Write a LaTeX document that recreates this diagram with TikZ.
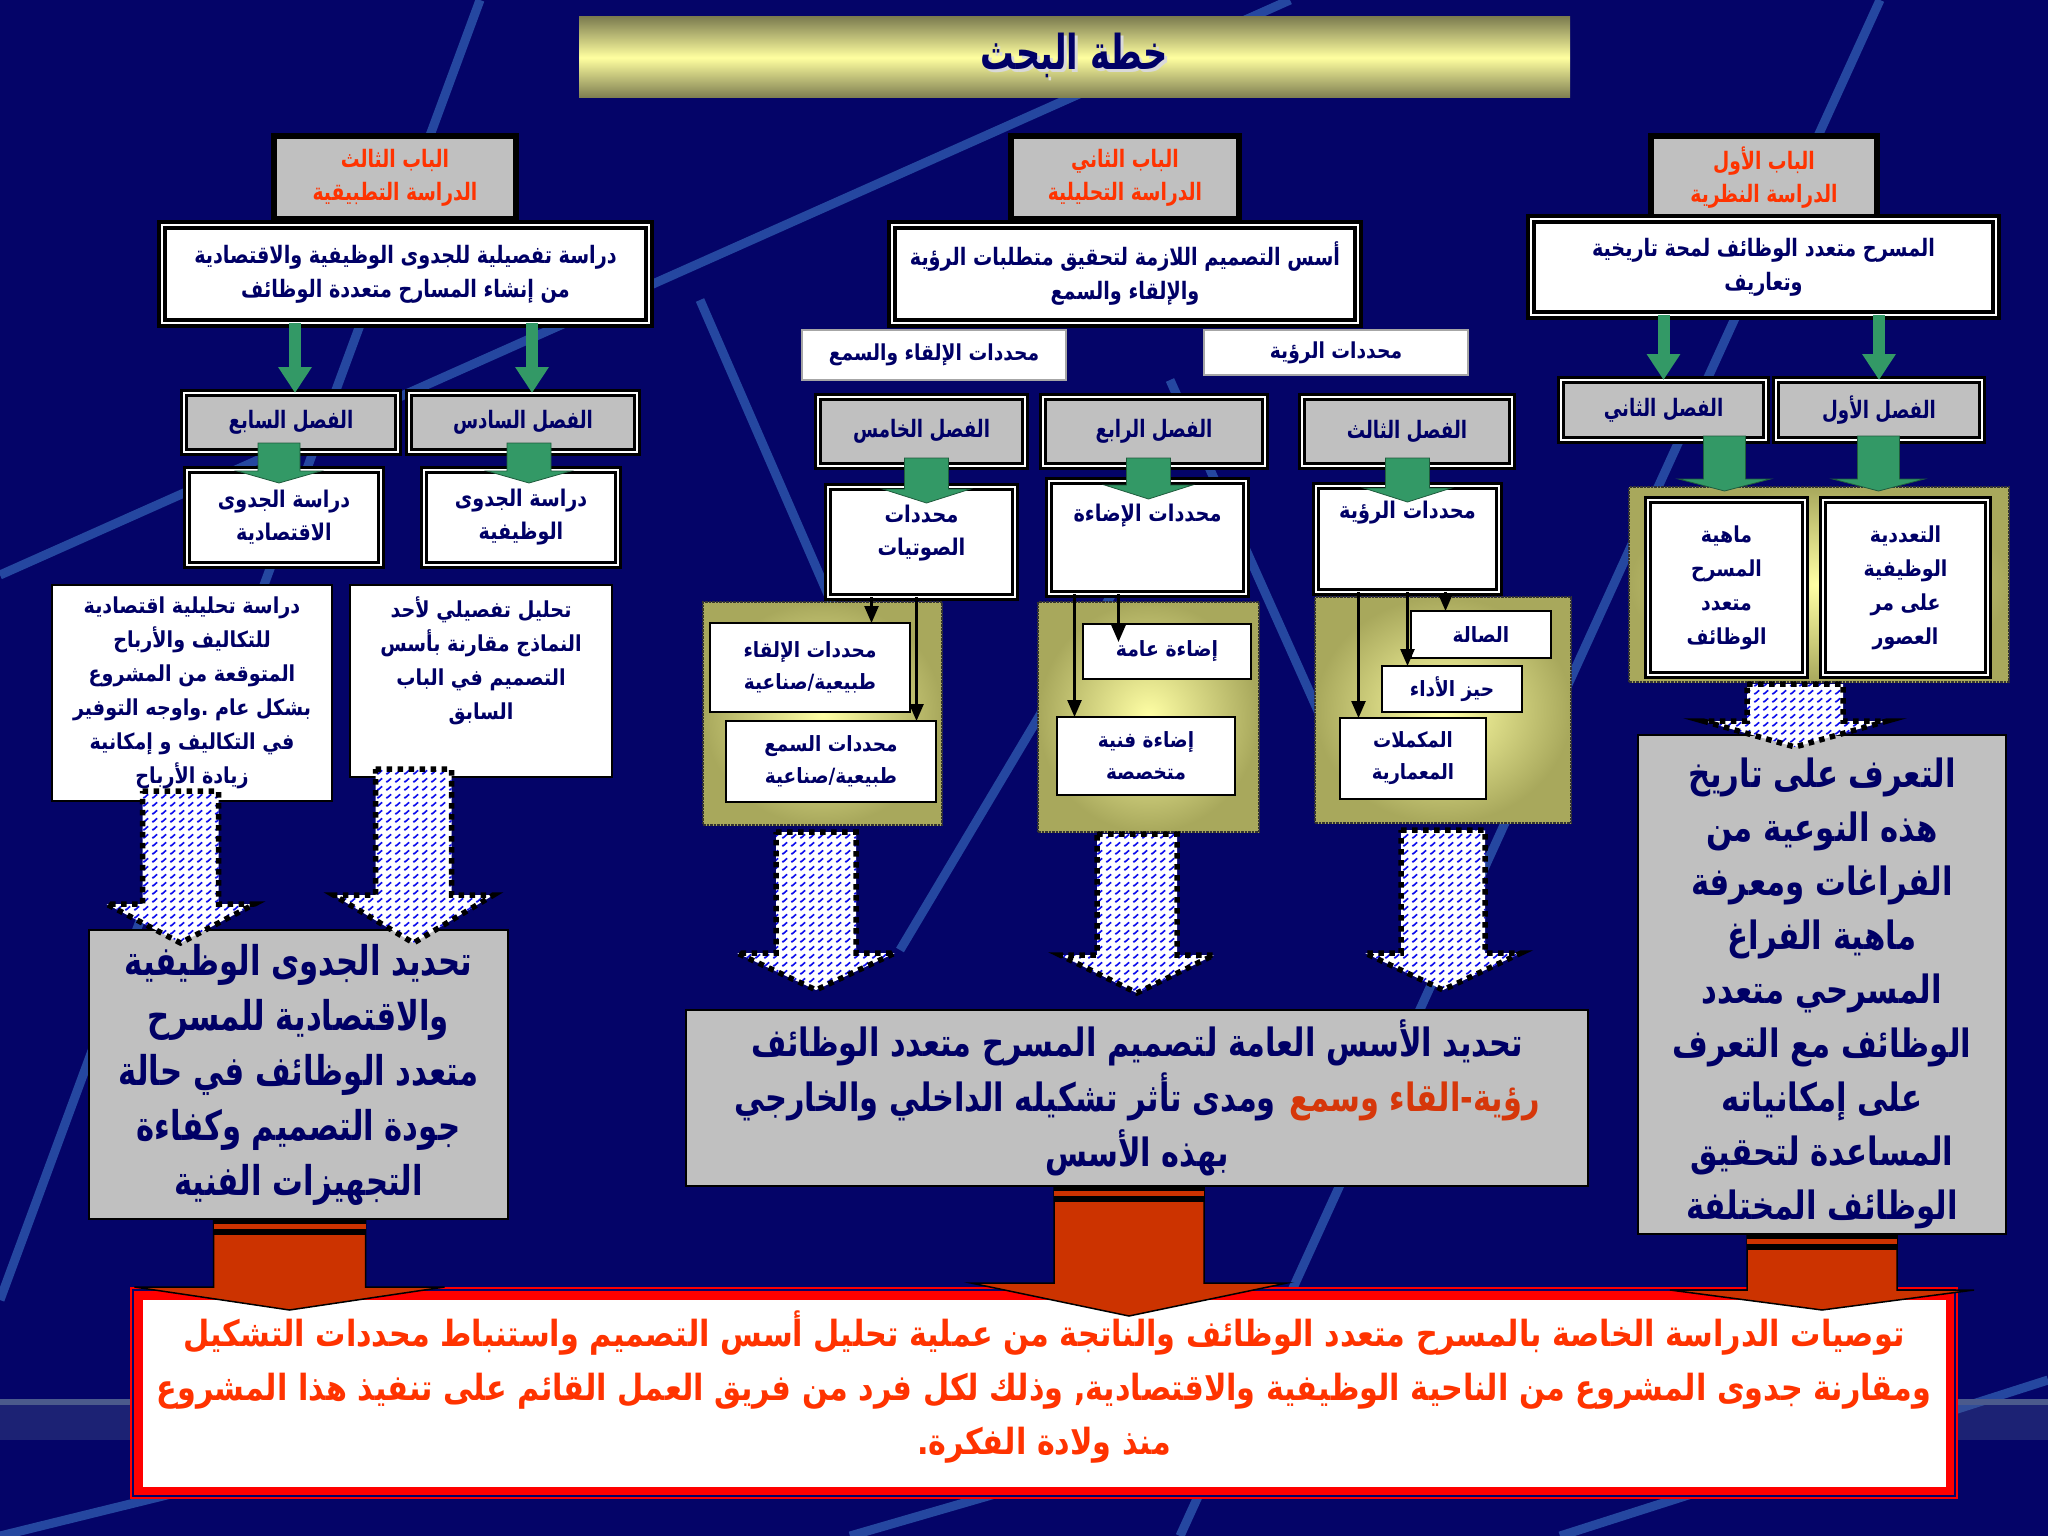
\documentclass[tikz,border=0pt]{standalone}
\usepackage{fontspec}
\usepackage{graphicx}
\newfontfamily\arabicfont[Script=Arabic]{DejaVu Sans}
\TeXXeTstate=1
\usetikzlibrary{calc,patterns,arrows.meta}
\newcommand{\arsx}{0.8}
\newcommand{\AR}[1]{\scalebox{\arsx}[1]{\beginR #1\endR}}
\definecolor{bgnavy}{RGB}{4,4,104}
\definecolor{bglinec}{RGB}{52,100,185}
\definecolor{bandc}{RGB}{75,90,140}
\definecolor{boxgray}{RGB}{192,192,192}
\definecolor{navytext}{RGB}{0,0,102}
\definecolor{arred}{RGB}{255,51,0}
\definecolor{arredtwo}{RGB}{214,55,10}
\definecolor{arrgreen}{RGB}{51,153,102}
\definecolor{arrred}{RGB}{204,51,0}
\definecolor{zred}{RGB}{255,0,0}
\definecolor{wavblue}{RGB}{10,10,235}
\definecolor{panellight}{RGB}{255,255,165}
\definecolor{paneldark}{RGB}{168,168,92}
\definecolor{titlelight}{RGB}{255,255,160}
\definecolor{titledark}{RGB}{125,125,80}
\pgfdeclarepatternformonly{waves}{\pgfqpoint{-1pt}{-1pt}}{\pgfqpoint{10pt}{9pt}}{\pgfqpoint{9pt}{8pt}}{%
  \pgfsetlinewidth{1.6pt}%
  \pgfpathmoveto{\pgfqpoint{0pt}{2pt}}%
  \pgfpathlineto{\pgfqpoint{4.5pt}{6pt}}%
  \pgfpathlineto{\pgfqpoint{9pt}{2pt}}%
  \pgfusepathqstroke}
% #1 style, #2 start coordinate, #3 tip coordinate, #4 shaft half width, #5 head half width, #6 head length
\newcommand{\blockarrow}[6]{%
  \path[#1] let \p1=(#2), \p2=(#3) in
    (\x2-#4pt,\y1) -- (\x2+#4pt,\y1) -- (\x2+#4pt,\y2+#6pt) -- (\x2+#5pt,\y2+#6pt)
    -- (\x2,\y2) -- (\x2-#5pt,\y2+#6pt) -- (\x2-#4pt,\y2+#6pt) -- cycle;}
\newcommand{\redarrow}[5]{%
  \blockarrow{redblock}{#1}{#2}{#3}{#4}{#5}
  \path[fill=black] let \p1=(#1), \p2=(#2) in (\x2-#3pt,\y1) rectangle (\x2+#3pt,\y1-16pt);
  \path[fill=arrred] let \p1=(#1), \p2=(#2) in (\x2-#3pt,\y1-5pt) rectangle (\x2+#3pt,\y1-10pt);}
\begin{document}
\begin{tikzpicture}[x=1pt,y=-1pt,
  every node/.style={inner sep=0pt, outer sep=0pt, align=center, font=\arabicfont\bfseries},
  fz/.style 2 args={font=\arabicfont\bfseries\fontsize{#1}{#2}\selectfont},
  sx/.style={execute at begin node={\renewcommand{\arsx}{#1}}},
  babbox/.style={draw=black, line width=6pt, fill=boxgray, text=arred},
  sbox/.style={draw=black, line width=4pt, double=white, double distance=2.5pt, fill=white, text=navytext},
  chbox/.style={draw=black, line width=3pt, double=white, double distance=2pt, fill=boxgray, text=navytext},
  subbox/.style={draw=black, line width=3pt, double=white, double distance=2pt, fill=white, text=navytext},
  plainbox/.style={draw=black, line width=1.8pt, fill=white, text=navytext},
  labelbox/.style={draw=gray!70, line width=1.5pt, fill=white, text=navytext},
  graybox/.style={draw=black, line width=2pt, fill=boxgray, text=navytext},
  txt/.style={text=navytext},
  panel/.style={draw=black!80, line width=2.5pt, densely dotted, inner color=panellight, outer color=paneldark},
  titlebar/.style={top color=titledark, bottom color=titledark, middle color=titlelight},
  greenthin/.style={draw=arrgreen, line width=12pt, -{Triangle[width=32pt,length=26pt]}},
  greenblock/.style={fill=arrgreen, draw=arrgreen!60!black, line width=0.8pt},
  thinarr/.style={draw=black, line width=2.5pt, -{Triangle[width=14pt,length=17pt]}},
  patarr/.style={preaction={fill=white}, pattern=waves, pattern color=wavblue, draw=black, line width=5.5pt, dash pattern=on 5.5pt off 5.5pt},
  redblock/.style={fill=arrred, draw=black, line width=1.5pt},
  bgline/.style={draw=bglinec, line width=9pt, opacity=0.7}
]
\useasboundingbox (0,0) rectangle (2048,1536);
\fill[bgnavy] (0,0) rectangle (2048,1536);
% background decoration
\draw[bgline] (0,575) -- (1290,0);
\draw[bgline] (1880,0) -- (1180,1536);
\draw[bgline] (480,0) -- (0,1300);
\draw[bgline] (700,300) -- (900,760);
\draw[bgline] (1170,380) -- (1340,760);
\draw[bgline] (900,950) -- (1150,530);
\draw[bgline] (0,1536) -- (350,1450);
\draw[bgline] (850,1536) -- (1250,1420);
\draw[bgline] (1560,1536) -- (2048,1380);
\fill[bandc, opacity=0.35] (0,1405) rectangle (2048,1440);
\draw[bandc, line width=6pt] (0,1402) -- (2048,1402);

% title
\node[titlebar, minimum width=991pt, minimum height=81pt] (bar) at (1074.5,57.5) {};
\node[fz={48}{52}, sx=0.7, text=white!70!gray] (titleshadow) at (1077,58) {\AR{خطة البحث}};
\node[fz={48}{52}, sx=0.7, text=navytext] (title) at (1074,55) {\AR{خطة البحث}};

% level 1
\node[babbox, minimum width=242pt, minimum height=83pt, fz={24}{33}, sx=0.78] (B3) at (395,177.5) {\AR{الباب الثالث}\\\AR{الدراسة التطبيقية}};
\node[babbox, minimum width=228pt, minimum height=83pt, fz={24}{33}, sx=0.78] (B2) at (1125,177.5) {\AR{الباب الثاني}\\\AR{الدراسة التحليلية}};
\node[babbox, minimum width=226pt, minimum height=83pt, fz={24}{33}, sx=0.78] (B1) at (1764,177.5) {\AR{الباب الأول}\\\AR{الدراسة النظرية}};

% level 2
\node[sbox, minimum width=487pt, minimum height=98pt, fz={24}{34}, sx=0.8] (S3) at (405.5,274) {\AR{دراسة  تفصيلية للجدوى الوظيفية والاقتصادية}\\\AR{من إنشاء المسارح متعددة الوظائف}};
\node[sbox, minimum width=466pt, minimum height=98pt, fz={24}{34}, sx=0.8] (S2) at (1125,274) {\AR{أسس التصميم اللازمة لتحقيق متطلبات الرؤية}\\\AR{والإلقاء والسمع}};
\node[sbox, minimum width=465pt, minimum height=96pt, fz={24}{34}, sx=0.8] (S1) at (1763.5,267) {\AR{المسرح متعدد الوظائف لمحة تاريخية}\\\AR{وتعاريف}};

% labels
\node[labelbox, minimum width=264pt, minimum height=50pt, fz={22}{30}, sx=0.85] (LA) at (934,355) {\AR{محددات الإلقاء والسمع}};
\node[labelbox, minimum width=264pt, minimum height=45pt, fz={22}{30}, sx=0.85] (LR) at (1336,352.5) {\AR{محددات الرؤية}};

% chapters
\node[chbox, minimum width=214pt, minimum height=59pt, fz={24}{30}, sx=0.76] (C7) at (291,422.5) {\AR{الفصل السابع}};
\node[chbox, minimum width=228pt, minimum height=59pt, fz={24}{30}, sx=0.76] (C6) at (523,422.5) {\AR{الفصل السادس}};
\node[chbox, minimum width=207pt, minimum height=69pt, fz={24}{30}, sx=0.76] (C5) at (921.5,431.5) {\AR{الفصل الخامس}};
\node[chbox, minimum width=222pt, minimum height=69pt, fz={24}{30}, sx=0.76] (C4) at (1154,431.5) {\AR{الفصل الرابع}};
\node[chbox, minimum width=210pt, minimum height=69pt, fz={24}{30}, sx=0.76] (C3) at (1407,431.5) {\AR{الفصل الثالث}};
\node[chbox, minimum width=205pt, minimum height=60pt, fz={24}{30}, sx=0.76] (C2) at (1663.5,410) {\AR{الفصل الثاني}};
\node[chbox, minimum width=206pt, minimum height=60pt, fz={24}{30}, sx=0.76] (C1) at (1879,410) {\AR{الفصل الأول}};

% panels
\node[panel, minimum width=239pt, minimum height=223pt] (P5) at (822.5,713.5) {};
\node[panel, minimum width=221pt, minimum height=230pt] (P4) at (1148.5,717) {};
\node[panel, minimum width=256pt, minimum height=226pt] (P3) at (1443,710) {};
\node[panel, minimum width=380pt, minimum height=195pt] (P1) at (1819,584.5) {};

% sub boxes
\node[subbox, minimum width=194pt, minimum height=95pt, fz={23}{33}, sx=0.83] (D7) at (284,517.5) {\AR{دراسة الجدوى}\\\AR{الاقتصادية}};
\node[subbox, minimum width=194pt, minimum height=95pt, fz={23}{33}, sx=0.83] (D6) at (521,517.5) {\AR{دراسة الجدوى}\\\AR{الوظيفية}};
\node[subbox, minimum width=187pt, minimum height=110pt] (D5) at (921.5,542) {};
\node[fz={23}{33}, sx=0.85, txt] (D5t) at (921.5,533) {\AR{محددات}\\\AR{الصوتيات}};
\node[subbox, minimum width=197pt, minimum height=113pt] (D4) at (1147.5,537.5) {};
\node[fz={23}{33}, sx=0.84, txt] (D4t) at (1147.5,516) {\AR{محددات الإضاءة}};
\node[subbox, minimum width=183pt, minimum height=106pt] (D3) at (1407.5,539) {};
\node[fz={23}{33}, sx=0.84, txt] (D3t) at (1407.5,513) {\AR{محددات الرؤية}};
\node[subbox, minimum width=157pt, minimum height=175pt, fz={22}{34}, sx=0.86] (D2) at (1726.5,587.5) {\AR{ماهية}\\\AR{المسرح}\\\AR{متعدد}\\\AR{الوظائف}};
\node[subbox, minimum width=165pt, minimum height=175pt, fz={22}{34}, sx=0.86] (D1) at (1905.5,587.5) {\AR{التعددية}\\\AR{الوظيفية}\\\AR{على مر}\\\AR{العصور}};

% panel boxes
\node[plainbox, minimum width=200pt, minimum height=89pt, fz={21}{32}, sx=0.88] (E5a) at (810,667.5) {\AR{محددات الإلقاء}\\\AR{طبيعية/صناعية}};
\node[plainbox, minimum width=210pt, minimum height=81pt, fz={21}{32}, sx=0.88] (E5b) at (831,761.5) {\AR{محددات السمع}\\\AR{طبيعية/صناعية}};
\node[plainbox, minimum width=168pt, minimum height=55pt, fz={21}{32}, sx=0.9] (E4a) at (1167,651.5) {\AR{إضاءة عامة}};
\node[plainbox, minimum width=178pt, minimum height=78pt, fz={21}{32}, sx=0.88] (E4b) at (1146,756) {\AR{إضاءة فنية}\\\AR{متخصصة}};
\node[plainbox, minimum width=140pt, minimum height=47pt, fz={21}{32}, sx=0.88] (E3a) at (1481,634.5) {\AR{الصالة}};
\node[plainbox, minimum width=140pt, minimum height=46pt, fz={21}{32}, sx=0.88] (E3b) at (1452,689) {\AR{حيز الأداء}};
\node[plainbox, minimum width=146pt, minimum height=81pt, fz={21}{32}, sx=0.86] (E3c) at (1413,758.5) {\AR{المكملات}\\\AR{المعمارية}};

% left text boxes
\node[plainbox, minimum width=280pt, minimum height=216pt, fz={22}{34}, sx=0.87] (T7) at (192,693) {\AR{دراسة تحليلية اقتصادية}\\\AR{للتكاليف والأرباح}\\\AR{المتوقعة من المشروع}\\\AR{بشكل عام .واوجه التوفير}\\\AR{في التكاليف و إمكانية}\\\AR{زيادة الأرباح}};
\node[plainbox, minimum width=262pt, minimum height=192pt] (T6) at (481,681) {};
\node[fz={22}{34}, sx=0.87, txt] (T6t) at (481,661) {\AR{تحليل تفصيلي لأحد}\\\AR{النماذج مقارنة بأسس}\\\AR{التصميم في الباب}\\\AR{السابق}};

% big gray boxes
\node[graybox, minimum width=419pt, minimum height=289pt, fz={41}{55}, sx=0.75] (G3) at (298.5,1074.5) {\AR{تحديد الجدوى الوظيفية}\\\AR{والاقتصادية للمسرح}\\\AR{متعدد الوظائف في حالة}\\\AR{جودة التصميم وكفاءة}\\\AR{التجهيزات الفنية}};
\node[graybox, minimum width=902pt, minimum height=176pt, fz={39}{55}, sx=0.78] (G2) at (1137,1098) {\AR{تحديد الأسس العامة لتصميم المسرح متعدد الوظائف}\\\AR{ومدى تأثر تشكيله الداخلي والخارجي} {\color{arredtwo}\AR{رؤية-القاء وسمع}}\\\AR{بهذه الأسس}};
\node[graybox, minimum width=368pt, minimum height=499pt] (G1) at (1822,984.5) {};
\node[fz={39}{54}, sx=0.79, txt] (G1t) at (1822,993) {\AR{التعرف على تاريخ}\\\AR{هذه النوعية من}\\\AR{الفراغات ومعرفة}\\\AR{ماهية الفراغ}\\\AR{المسرحي متعدد}\\\AR{الوظائف مع التعرف}\\\AR{على إمكانياته}\\\AR{المساعدة لتحقيق}\\\AR{الوظائف المختلفة}};

% bottom box
\node[fill=zred, minimum width=1828pt, minimum height=212pt] (Z) at (1044,1393) {};
\node[fill=white, minimum width=1803pt, minimum height=187pt] (Zin) at (Z.center) {};
\draw[bgnavy, line width=1.2pt] ($(Z.north west)+(3,3)$) rectangle ($(Z.south east)+(-3,-3)$);
\node[fz={36}{54}, sx=0.84, text=arred] (Zt) at (1044,1387) {\AR{توصيات الدراسة الخاصة بالمسرح متعدد الوظائف والناتجة من عملية تحليل أسس التصميم واستنباط محددات التشكيل}\\\AR{ومقارنة جدوى المشروع من الناحية الوظيفية والاقتصادية, وذلك لكل فرد من فريق العمل القائم على تنفيذ هذا المشروع}\\\AR{منذ ولادة الفكرة.}};

% thin green arrows
\draw[greenthin] ($(C7.north |- S3.south)+(4,0)$) -- ($(C7.north)+(4,0)$);
\draw[greenthin] ($(C6.north |- S3.south)+(9,0)$) -- ($(C6.north)+(9,0)$);
\draw[greenthin] (C2.north |- S1.south) -- (C2.north);
\draw[greenthin] (C1.north |- S1.south) -- (C1.north);

% green block arrows
\coordinate (g7a) at ($(C7.south)+(0,-9)$);  \coordinate (g7b) at ($(D7.north)+(-5,13)$);
\coordinate (g6a) at ($(C6.south)+(0,-9)$);  \coordinate (g6b) at ($(D6.north)+(8,13)$);
\coordinate (g5a) at ($(C5.south)+(0,-8)$);  \coordinate (g5b) at ($(D5.north)+(5,16)$);
\coordinate (g4a) at ($(C4.south)+(0,-8)$);  \coordinate (g4b) at ($(D4.north)+(1,18)$);
\coordinate (g3a) at ($(C3.south)+(0,-8)$);  \coordinate (g3b) at ($(D3.north)+(0,16)$);
\coordinate (g2a) at ($(C2.south)+(0,-4)$);  \coordinate (g2b) at ($(D2.north)+(-2,-9)$);
\coordinate (g1a) at ($(C1.south)+(0,-4)$);  \coordinate (g1b) at ($(D1.north)+(-27,-9)$);
\blockarrow{greenblock}{g7a}{g7b}{21}{42}{12}
\blockarrow{greenblock}{g6a}{g6b}{22}{42}{12}
\blockarrow{greenblock}{g5a}{g5b}{22}{44}{14}
\blockarrow{greenblock}{g4a}{g4b}{22}{44}{14}
\blockarrow{greenblock}{g3a}{g3b}{22}{44}{14}
\blockarrow{greenblock}{g2a}{g2b}{21}{46}{12}
\blockarrow{greenblock}{g1a}{g1b}{21}{46}{12}

% thin black arrows
\coordinate (d5l) at ($(D5.south)+(-50,0)$); \coordinate (d5r) at ($(D5.south)+(-5,0)$);
\coordinate (d4l) at ($(D4.south)+(-73,0)$); \coordinate (d4r) at ($(D4.south)+(-29,0)$);
\coordinate (d3l) at ($(D3.south)+(-49,0)$); \coordinate (d3m) at ($(D3.south)+(0,0)$); \coordinate (d3r) at ($(D3.south)+(38,0)$);
\draw[thinarr] (d5l) -- (d5l |- E5a.north);
\draw[thinarr] (d5r) -- (d5r |- E5b.north);
\draw[thinarr, shorten >=-18pt] (d4r) -- (d4r |- E4a.north);
\draw[thinarr] (d4l) -- (d4l |- E4b.north);
\draw[thinarr] (d3r) -- (d3r |- E3a.north);
\draw[thinarr] (d3m) -- (d3m |- E3b.north);
\draw[thinarr] (d3l) -- (d3l |- E3c.north);

% patterned arrows
\coordinate (p7a) at ($(T7.south)+(0,-10)$); \coordinate (p7b) at ($(G3.north)+(-118,13)$);
\coordinate (p6a) at ($(T6.south)+(0,-8)$);  \coordinate (p6b) at ($(G3.north)+(115,13)$);
\coordinate (p5a) at ($(P5.south)+(0,7)$);   \coordinate (p5b) at ($(G2.north)+(-321,-20)$);
\coordinate (p4a) at ($(P4.south)+(0,2)$);   \coordinate (p4b) at ($(G2.north)+(0,-17)$);
\coordinate (p3a) at ($(P3.south)+(0,7)$);   \coordinate (p3b) at ($(G2.north)+(306,-20)$);
\coordinate (p1a) at ($(P1.south)+(0,2)$);   \coordinate (p1b) at ($(G1.north)+(-27,12)$);
\blockarrow{patarr}{p7a}{p7b}{38}{74}{39}
\blockarrow{patarr}{p6a}{p6b}{38}{80}{48}
\blockarrow{patarr}{p5a}{p5b}{40}{79}{37}
\blockarrow{patarr}{p4a}{p4b}{40}{77}{38}
\blockarrow{patarr}{p3a}{p3b}{42}{78}{37}
\blockarrow{patarr}{p1a}{p1b}{48}{92}{26}

% red arrows
\coordinate (r3a) at (G3.south); \coordinate (r3b) at ($(Z.north -| G3.south)+(-9,23)$);
\coordinate (r2a) at (G2.south); \coordinate (r2b) at ($(Z.north -| G2.south)+(-8,29)$);
\coordinate (r1a) at (G1.south); \coordinate (r1b) at ($(Z.north -| G1.south)+(0,23)$);
\redarrow{r3a}{r3b}{76}{155}{23}
\redarrow{r2a}{r2b}{75}{158}{33}
\redarrow{r1a}{r1b}{75}{152}{20}
\end{tikzpicture}
\end{document}
